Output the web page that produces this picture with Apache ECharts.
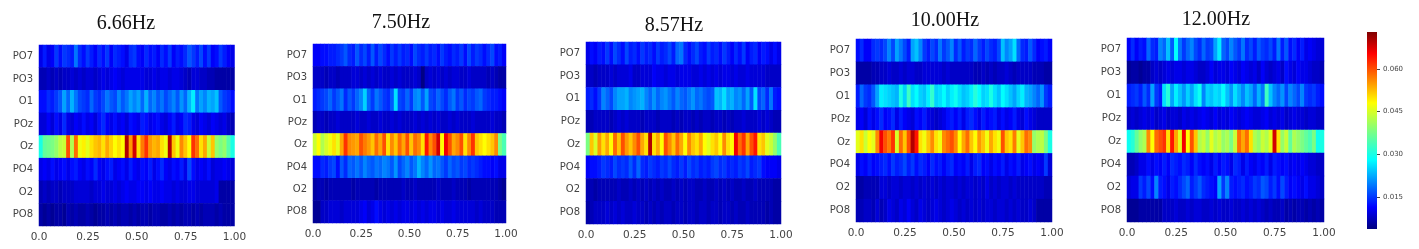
<!DOCTYPE html>
<html><head><meta charset="utf-8">
<style>html,body{margin:0;padding:0;background:#fff}#w{position:relative;width:1419px;height:249px;overflow:hidden}
#c,#t{position:absolute;left:0;top:0;width:1419px;height:249px}#c{filter:blur(0.6px)}</style>
<script src="https://cdn.jsdelivr.net/npm/echarts@6/dist/echarts.min.js"></script>
</head><body><div id="w"><div id="c"></div><div id="t"></div></div>
<script>
// values in thousandths of the colour scale, read by eye, 50 columns per row
const channels = ['PO7','PO3','O1','POz','Oz','PO4','O2','PO8'];
const panelTitles = ['6.66Hz','7.50Hz','8.57Hz','10.00Hz','12.00Hz'];
const xTickValues = [0,0.25,0.5,0.75,1];
const xTickLabels = ['0.0','0.25','0.50','0.75','1.00'];
const colourTicks = [0.015,0.030,0.045,0.060];
const colourMin = 0.0037, colourMax = 0.073;

const a_PO7=[10,13,10,11,15,12,15,14,13,19,14,12,15,13,11,14,12,15,11,14,13,12,10,14,15,12,11,14,12,13,11,14,12,15,11,13,12,14,17,15,13,16,12,15,11,12,15,13,11,10];
const a_PO3=[7,7,8,7,8,7,8,8,9,8,9,8,9,9,8,9,10,9,10,11,10,9,10,10,10,10,10,9,9,10,9,10,10,9,10,10,9,8,7,9,9,8,8,7,7,6,6,6,6,6];
const a_O1=[12,12,14,13,15,17,22,18,23,19,16,15,14,18,15,14,16,19,17,16,20,17,19,22,20,22,18,23,18,20,17,19,16,18,20,17,21,18,23,27,19,22,20,23,22,24,17,15,14,12];
const a_POz=[9,9,11,9,12,10,14,10,9,11,10,12,10,11,9,12,14,11,10,12,10,11,9,12,11,10,13,12,10,11,12,10,9,11,13,10,11,14,13,10,9,11,10,9,11,10,9,10,8,7];
const a_Oz=[30,36,37,38,40,43,44,60,42,58,47,49,46,50,52,53,50,54,51,48,50,48,70,55,68,50,57,62,55,53,54,50,47,70,52,47,56,52,48,62,58,50,54,44,52,40,38,40,35,30];
const a_PO4=[10,11,10,12,10,11,12,10,12,13,11,10,12,11,14,11,10,12,13,10,11,12,10,13,11,10,12,11,13,10,12,14,11,10,12,11,13,10,16,12,10,11,10,12,9,10,10,11,10,9];
const a_O2=[7,8,7,8,8,7,8,8,8,9,9,9,9,8,9,9,10,9,9,10,9,10,11,10,10,11,11,10,11,10,10,11,10,10,9,10,9,9,10,10,9,9,9,9,9,10,6,6,6,6];
const a_PO8=[6,5,6,5,6,6,5,7,6,7,6,6,7,6,5,6,6,7,6,7,6,7,7,6,7,6,7,7,6,7,7,6,6,7,6,7,6,7,7,6,7,6,7,7,7,6,7,6,6,6];

const b_PO7=[11,11,12,12,13,13,14,15,17,14,13,17,14,16,13,17,13,16,14,12,15,13,15,13,14,12,16,14,13,15,13,14,12,15,13,12,14,13,15,12,16,13,15,14,12,14,16,12,13,11];
const b_PO3=[8,8,8,7,8,8,7,8,8,8,9,9,8,9,8,9,8,9,8,8,9,8,9,8,8,8,9,8,4,8,9,8,9,8,9,8,9,9,8,8,9,8,8,8,8,7,8,7,6,6];
const b_O1=[13,14,15,16,18,15,17,19,14,17,15,18,20,25,18,15,19,17,15,14,17,26,16,15,18,15,20,21,17,22,16,15,18,16,14,17,19,15,17,14,16,15,17,18,15,14,13,13,12,11];
const b_POz=[7,8,8,7,8,8,9,8,8,8,8,9,8,8,9,8,8,9,8,8,9,8,9,8,8,8,9,8,9,8,9,8,9,8,8,9,8,9,8,8,8,9,8,8,8,8,9,8,8,7];
const b_Oz=[44,48,42,45,47,50,46,54,62,56,55,54,60,57,55,52,58,54,60,50,56,52,58,54,60,52,58,56,50,64,56,60,68,48,66,60,54,56,60,50,56,62,52,50,48,50,52,56,38,34];
const b_PO4=[12,12,14,13,15,16,12,17,14,18,17,19,17,20,18,17,19,18,20,19,17,21,16,18,20,17,19,23,20,18,21,18,19,17,15,18,16,17,15,16,14,15,14,13,12,12,11,12,10,10];
const b_O2=[6,7,7,6,7,7,7,7,7,7,6,7,7,7,7,7,6,7,7,7,7,7,7,8,7,7,8,7,7,7,7,7,8,7,7,7,8,7,7,7,6,7,7,7,7,7,7,7,6,5];
const b_PO8=[5,5,8,8,9,9,9,8,9,9,9,9,10,11,9,10,12,10,9,10,9,10,9,10,10,9,10,9,10,9,10,10,9,10,9,9,10,9,9,9,9,9,8,9,8,8,8,7,7,7];

const c_PO7=[10,12,11,13,12,15,12,16,14,12,16,13,14,12,15,13,14,12,15,13,14,16,13,18,19,14,12,14,16,13,12,15,13,14,12,15,13,11,14,12,15,11,13,14,11,13,12,10,12,10];
const c_PO3=[8,8,7,8,8,8,9,8,9,9,9,10,8,8,9,9,9,11,10,10,9,10,10,9,10,10,10,9,9,10,9,10,9,10,9,10,10,9,10,9,9,10,9,9,9,9,8,8,8,8];
const c_O1=[13,14,12,15,20,18,16,20,22,22,23,20,21,22,23,20,18,21,18,20,21,19,17,20,18,17,19,21,18,19,17,16,17,24,23,26,22,23,20,21,18,22,17,26,16,18,14,19,13,12];
const c_POz=[7,7,8,8,8,8,7,8,9,8,9,8,8,8,7,8,8,8,7,8,8,8,7,8,7,8,8,7,8,7,8,8,7,8,8,7,8,7,8,8,9,8,8,8,9,8,9,8,7,7];
const c_Oz=[38,52,45,55,50,54,48,58,52,60,55,52,56,60,54,50,70,50,54,48,60,56,52,58,54,48,56,52,50,54,48,46,50,52,48,56,50,48,66,58,62,54,60,64,50,52,46,44,40,34];
const c_PO4=[11,12,12,13,15,14,13,16,14,15,14,17,14,18,14,13,15,14,13,15,14,16,14,13,15,13,16,14,15,13,14,13,15,16,14,15,13,14,13,15,14,16,13,14,15,12,11,11,11,10];
const c_O2=[7,7,6,7,7,7,7,7,8,7,7,8,7,8,7,8,7,8,7,8,7,7,8,7,8,7,8,8,7,7,8,7,7,8,7,8,7,8,7,7,8,7,7,8,7,7,7,7,6,6];
const c_PO8=[6,7,8,8,8,9,8,9,8,9,8,8,9,8,8,7,8,7,8,7,8,8,7,8,8,7,8,8,7,8,8,7,8,8,7,8,8,7,8,7,7,8,7,7,7,7,6,7,6,6];

const d_PO7=[12,14,11,11,14,15,14,16,20,16,22,19,16,13,22,24,20,15,13,16,14,19,15,17,20,14,17,13,15,14,18,15,13,16,14,13,16,24,20,22,26,18,14,13,17,14,11,12,13,11];
const d_PO3=[6,6,6,6,7,7,8,8,9,8,8,9,8,9,9,8,8,9,9,9,9,9,8,9,8,8,8,8,8,8,7,7,8,7,8,7,8,8,9,8,7,8,8,8,8,7,7,7,6,6];
const d_O1=[13,18,15,14,17,22,27,26,25,24,23,30,25,33,26,28,25,24,27,32,25,26,28,25,27,29,26,24,25,27,31,28,25,26,30,26,24,28,26,24,22,25,27,23,22,20,18,21,15,13];
const d_POz=[10,11,9,12,10,12,14,11,12,14,10,13,11,10,9,12,11,13,10,9,8,9,10,12,13,11,13,10,13,14,12,10,13,11,12,13,10,12,10,11,13,10,9,12,10,9,8,8,8,8];
const d_Oz=[46,50,44,48,46,56,66,60,57,62,45,58,52,60,70,64,50,47,52,56,50,47,56,58,60,56,48,54,58,52,48,55,52,47,54,50,47,60,52,50,57,46,52,58,56,40,42,43,38,30];
const d_PO4=[10,12,11,13,11,12,13,14,12,15,13,14,16,13,15,12,14,13,11,14,12,13,11,13,14,11,12,11,13,10,13,14,11,12,10,12,11,13,10,12,11,13,10,11,12,10,11,10,15,9];
const d_O2=[6,6,7,7,7,7,9,9,8,9,9,8,9,9,8,9,8,9,8,9,8,9,8,9,9,8,9,8,9,9,8,9,8,10,8,9,8,9,9,8,9,8,8,8,8,8,8,8,7,7];
const d_PO8=[7,7,8,8,7,9,7,8,10,9,8,10,9,11,9,8,10,9,8,9,10,9,8,9,10,9,8,9,8,9,8,9,8,9,9,8,9,9,8,9,8,9,8,8,9,8,6,6,6,6];

const e_PO7=[11,14,11,13,12,18,14,13,20,18,24,17,28,19,15,18,20,16,14,18,15,16,22,27,18,16,20,17,15,19,14,16,13,17,15,14,16,13,19,13,17,12,14,11,13,10,11,10,9,9];
const e_PO3=[5,6,6,5,6,6,8,9,8,9,10,9,10,10,9,10,10,9,8,8,9,11,9,10,10,9,11,10,9,11,10,9,10,8,11,9,8,9,10,8,12,10,9,11,10,10,9,8,8,7];
const e_O1=[13,14,15,13,17,14,22,15,13,26,31,22,27,24,21,25,22,26,29,20,25,24,26,25,28,24,21,26,23,20,24,22,18,23,19,33,24,20,18,21,16,20,18,16,20,15,14,15,13,12];
const e_POz=[8,9,8,9,10,9,10,8,9,10,8,9,9,8,10,9,10,9,10,11,10,9,11,9,10,9,11,10,9,10,11,10,9,9,10,11,9,10,9,10,8,9,10,9,9,8,9,9,8,8];
const e_Oz=[29,31,36,40,42,56,48,58,60,62,50,64,54,46,66,48,60,52,42,44,40,46,42,44,40,42,38,44,58,54,58,50,42,40,44,42,46,68,50,40,44,36,42,40,38,36,34,38,29,30];
const e_PO4=[7,7,8,10,10,12,10,12,11,13,11,14,13,12,14,13,11,14,12,11,12,10,13,11,13,12,10,14,13,10,13,11,10,12,11,13,10,13,12,11,12,10,11,10,11,10,9,9,8,8];
const e_O2=[9,10,10,15,13,16,12,20,13,12,10,13,12,14,16,18,13,15,17,14,13,12,11,22,15,20,13,12,13,14,12,13,15,14,17,16,13,15,12,16,13,11,12,11,10,12,10,10,9,8];
const e_PO8=[5,5,5,6,6,6,6,6,6,8,8,8,9,8,8,9,8,9,9,8,8,9,8,9,8,8,9,8,8,9,8,9,8,9,8,7,8,7,7,8,6,7,6,7,7,6,7,6,7,6];

const rows = [
  [a_PO7,a_PO3,a_O1,a_POz,a_Oz,a_PO4,a_O2,a_PO8],
  [b_PO7,b_PO3,b_O1,b_POz,b_Oz,b_PO4,b_O2,b_PO8],
  [c_PO7,c_PO3,c_O1,c_POz,c_Oz,c_PO4,c_O2,c_PO8],
  [d_PO7,d_PO3,d_O1,d_POz,d_Oz,d_PO4,d_O2,d_PO8],
  [e_PO7,e_PO3,e_O1,e_POz,e_Oz,e_PO4,e_O2,e_PO8]
];
const boxes = [[39,45,195.5,181],[313,44,193,179],[586,42,195,182],[856,39,196,183],[1127,38,197,184]];
const titlePos = [[121,9],[396,8],[669,11],[940,6],[1211,5]];
const jet = ['#00007f','#0000ff','#00ffff','#7fff7f','#ffff00','#ff0000','#7f0000'];
const jetStops = [0,0.11,0.35,0.5,0.64,0.89,1];

const grid=[],xAxis=[],yAxis=[],series=[],title=[];
const axisGrey='#444';
const columns = a_Oz.map((_,i)=>String(i));
rows.forEach((panel,p)=>{
  const [l,t,w,h]=boxes[p];
  grid.push({left:l,top:t,width:w,height:h});
  title.push({text:panelTitles[p],left:titlePos[p][0],top:titlePos[p][1],textAlign:'center',
    textStyle:{fontFamily:'Liberation Serif',fontSize:20,fontWeight:'normal',color:'#111'}});
  const catX=xAxis.length;
  xAxis.push({type:'category',gridIndex:p,data:columns,show:false});
  xAxis.push({type:'value',gridIndex:p,position:'bottom',min:0,max:1,interval:0.25,splitLine:{show:false},
    axisLine:{show:false,onZero:false},axisTick:{length:3,lineStyle:{color:axisGrey}},
    axisLabel:{color:axisGrey,fontFamily:'DejaVu Sans',fontSize:10.5,margin:6,hideOverlap:false,showMinLabel:true,showMaxLabel:true,
      formatter:v=>xTickLabels[xTickValues.indexOf(v)]}});
  const catY=yAxis.length;
  yAxis.push({type:'category',gridIndex:p,data:channels,inverse:true,splitLine:{show:false},splitArea:{show:false},
    axisLine:{show:false,onZero:false},axisTick:{alignWithLabel:true,length:3,lineStyle:{color:axisGrey}},
    axisLabel:{color:axisGrey,fontFamily:'DejaVu Sans',fontSize:10,margin:6,interval:0}});
  const data=[];
  panel.forEach((r,y)=>r.forEach((v,x)=>data.push([x,y,v/1000])));
  series.push({type:'heatmap',xAxisIndex:catX,yAxisIndex:catY,data,progressive:0,animation:false,
    itemStyle:{borderWidth:0},emphasis:{disabled:true}});
});
// colour bar
const cb=rows.length;
grid.push({left:1367,top:32,width:10,height:197});
xAxis.push({type:'category',gridIndex:cb,data:['c'],show:false});
yAxis.push({type:'value',gridIndex:cb,position:'right',min:colourMin,max:colourMax,splitLine:{show:false},
  axisLine:{show:false},
  axisTick:{show:true,length:3,customValues:colourTicks,lineStyle:{color:axisGrey}},
  axisLabel:{color:axisGrey,fontFamily:'DejaVu Sans',fontSize:7,margin:6,customValues:colourTicks,formatter:v=>v.toFixed(3)}});
series.push({type:'bar',xAxisIndex:xAxis.length-1,yAxisIndex:yAxis.length-1,data:[colourMax],barWidth:'100%',silent:true,animation:false,
  itemStyle:{color:new echarts.graphic.LinearGradient(0,1,0,0,jet.map((c,i)=>({offset:jetStops[i],color:c})))}});

const chart=echarts.init(document.getElementById('c'),null,{renderer:'canvas'});
chart.setOption({animation:false,backgroundColor:'#fff',grid,xAxis,yAxis,series,
  visualMap:{show:false,type:'continuous',min:colourMin,max:colourMax,seriesIndex:[0,1,2,3,4],
    inRange:{color:Array.from({length:101},(_,i)=>{
      const f=i/100;let k=0;while(k<jetStops.length-2&&f>jetStops[k+1])k++;
      const t=(f-jetStops[k])/(jetStops[k+1]-jetStops[k]);
      const rgb=s=>[1,3,5].map(j=>parseInt(s.substr(j,2),16));
      const A=rgb(jet[k]),B=rgb(jet[k+1]);
      return 'rgb('+A.map((q,j)=>Math.round(q+(B[j]-q)*t)).join(',')+')';
    })}}
});
const titles=echarts.init(document.getElementById('t'),null,{renderer:'canvas'});
titles.setOption({animation:false,title});
</script></body></html>
